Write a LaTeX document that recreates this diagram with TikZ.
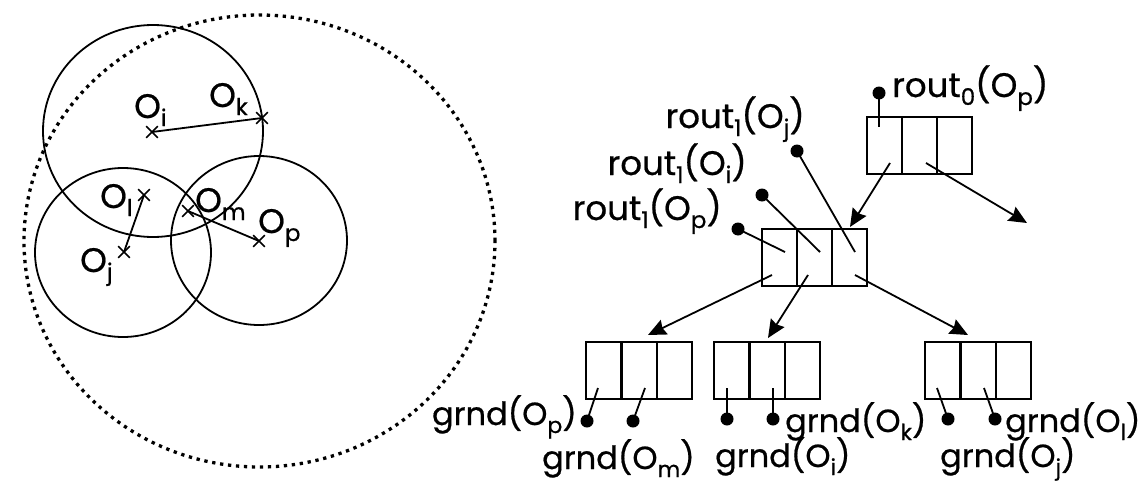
\documentclass[tikz,border=0pt]{standalone}
\usepackage{fontspec}
\setmainfont{Poppins}[FakeBold=0.6]
\usetikzlibrary{arrows.meta,shapes.misc}
\newcommand{\lsub}[1]{\raisebox{-8pt}{\fontsize{23}{23}\selectfont #1}}
\newcommand{\gsub}[1]{\raisebox{-8pt}{\fontsize{22}{22}\selectfont #1}}
\begin{document}
\begin{tikzpicture}[x=1pt,y=-1pt,
  lbl/.style={inner sep=0pt,font=\fontsize{34}{34}\selectfont},
  glbl/.style={inner sep=0pt,font=\fontsize{32}{32}\selectfont},
  xmark/.style={cross out,draw,line width=1.6pt,minimum size=10pt,inner sep=0pt},
  ring/.style={line width=1.8pt},
  dotring/.style={line width=3.3pt,dash pattern=on 3.3pt off 4.7pt},
  cell/.style={draw,line width=2pt,minimum width=35pt,minimum height=57pt,inner sep=0pt},
  pin/.style={circle,fill,minimum size=13pt,inner sep=0pt},
  ptr/.style={line width=1.8pt},
  arr/.style={line width=1.8pt,-{Stealth[length=18pt,width=16pt,inset=2pt]}}]
\useasboundingbox (0,0) rectangle (1143,490);
% left part
\draw[dotring] (259.5,241) ellipse [x radius=235.5pt, y radius=226pt];
\draw[ring] (153,131) ellipse [x radius=110pt, y radius=106pt];
\draw[ring] (123,252.5) ellipse [x radius=88pt, y radius=84.5pt];
\draw[ring] (259,240.5) ellipse [x radius=88pt, y radius=84.5pt];
\node[xmark] (ci) at (152,132) {};
\node[xmark] (ck) at (262,118) {};
\node[xmark] (cl) at (144,195) {};
\node[xmark] (cj) at (124,252) {};
\node[xmark] (cm) at (188,211) {};
\node[xmark] (cp) at (259,241) {};
\draw[ring] (ci.center) -- (ck.center);
\draw[ring] (cl.center) -- (cj.center);
\draw[ring] (cm.center) -- (cp.center);
\node[lbl,anchor=base west] (li) at (134,118) {O\lsub{i}};
\node[lbl,anchor=base west] (lk) at (209,107) {O\lsub{k}};
\node[lbl,anchor=base west] (ll) at (100,208) {O\lsub{l}};
\node[lbl,anchor=base west] (lm) at (195,212) {O\lsub{m}};
\node[lbl,anchor=base west] (lp) at (258,233) {O\lsub{p}};
\node[lbl,anchor=base west] (lj) at (80,272) {O\lsub{j}};
% top box
\node[cell] (t1) at (884.5,145) {};
\node[cell] (t2) at (919.5,145) {};
\node[cell] (t3) at (954.5,145) {};
% middle box
\node[cell] (m1) at (779.5,257.5) {};
\node[cell] (m2) at (814.5,257.5) {};
\node[cell] (m3) at (849.5,257.5) {};
% bottom boxes
\node[cell] (a1) at (603.7,370.5) {};
\node[cell] (a2) at (639,370.5) {};
\node[cell] (a3) at (674.3,370.5) {};
\node[cell] (b1) at (731.7,370.5) {};
\node[cell] (b2) at (767,370.5) {};
\node[cell] (b3) at (802.3,370.5) {};
\node[cell] (c1) at (942.7,370.5) {};
\node[cell] (c2) at (978,370.5) {};
\node[cell] (c3) at (1013.3,370.5) {};
% top box pointer and arrows
\node[pin] (p0) at (879,93) {};
\coordinate (q0) at (879,127);
\draw[ptr] (p0.center) -- (q0);
\node[lbl,anchor=base west] (r0) at (892,97) {rout\lsub{0}(O\lsub{p})};
\coordinate (s1) at (890,163);
\coordinate (s2) at (926,163);
\coordinate (e2) at (1027,223);
\draw[arr] (s1) -- (850,227);
\draw[arr] (s2) -- (e2);
% middle pointers
\node[pin] (pp) at (738,229) {};
\node[pin] (pi) at (762,195) {};
\node[pin] (pj) at (797,151) {};
\coordinate (qp) at (785,252);
\coordinate (qi) at (820,252);
\coordinate (qj) at (855,252);
\draw[ptr] (pp.center) -- (qp);
\draw[ptr] (pi.center) -- (qi);
\draw[ptr] (pj.center) -- (qj);
\node[lbl,anchor=base east] (rj) at (805,128) {rout\lsub{1}(O\lsub{j})};
\node[lbl,anchor=base east] (ri) at (747,175) {rout\lsub{1}(O\lsub{i})};
\node[lbl,anchor=base east] (rp) at (722,220) {rout\lsub{1}(O\lsub{p})};
% middle arrows
\coordinate (u1) at (772,275);
\coordinate (u2) at (808,275);
\coordinate (u3) at (855,275);
\coordinate (v1) at (648,335);
\coordinate (v2) at (768,338);
\coordinate (v3) at (968,335);
\draw[arr] (u1) -- (v1);
\draw[arr] (u2) -- (v2);
\draw[arr] (u3) -- (v3);
% bottom pointers
\coordinate (ga1) at (598,388);
\coordinate (ga2) at (645,388);
\node[pin] (da1) at (587,421) {};
\node[pin] (da2) at (633,421) {};
\draw[ptr] (ga1) -- (da1.center);
\draw[ptr] (ga2) -- (da2.center);
\coordinate (gb1) at (727,388);
\coordinate (gb2) at (773,388);
\node[pin] (db1) at (727,419) {};
\node[pin] (db2) at (773,419) {};
\draw[ptr] (gb1) -- (db1.center);
\draw[ptr] (gb2) -- (db2.center);
\coordinate (gc1) at (937,388);
\coordinate (gc2) at (984,388);
\node[pin] (dc1) at (948,419) {};
\node[pin] (dc2) at (995,419) {};
\draw[ptr] (gc1) -- (dc1.center);
\draw[ptr] (gc2) -- (dc2.center);
\node[glbl,anchor=base east] (gp) at (577,425) {grnd(O\gsub{p})};
\node[glbl,anchor=base west] (gm) at (542,469) {grnd(O\gsub{m})};
\node[glbl,anchor=base west] (gk) at (785,432) {grnd(O\gsub{k})};
\node[glbl,anchor=base west] (gi) at (715,467) {grnd(O\gsub{i})};
\node[glbl,anchor=base west] (gl) at (1005,432) {grnd(O\gsub{l})};
\node[glbl,anchor=base west] (gj) at (940,467) {grnd(O\gsub{j})};
\end{tikzpicture}
\end{document}
